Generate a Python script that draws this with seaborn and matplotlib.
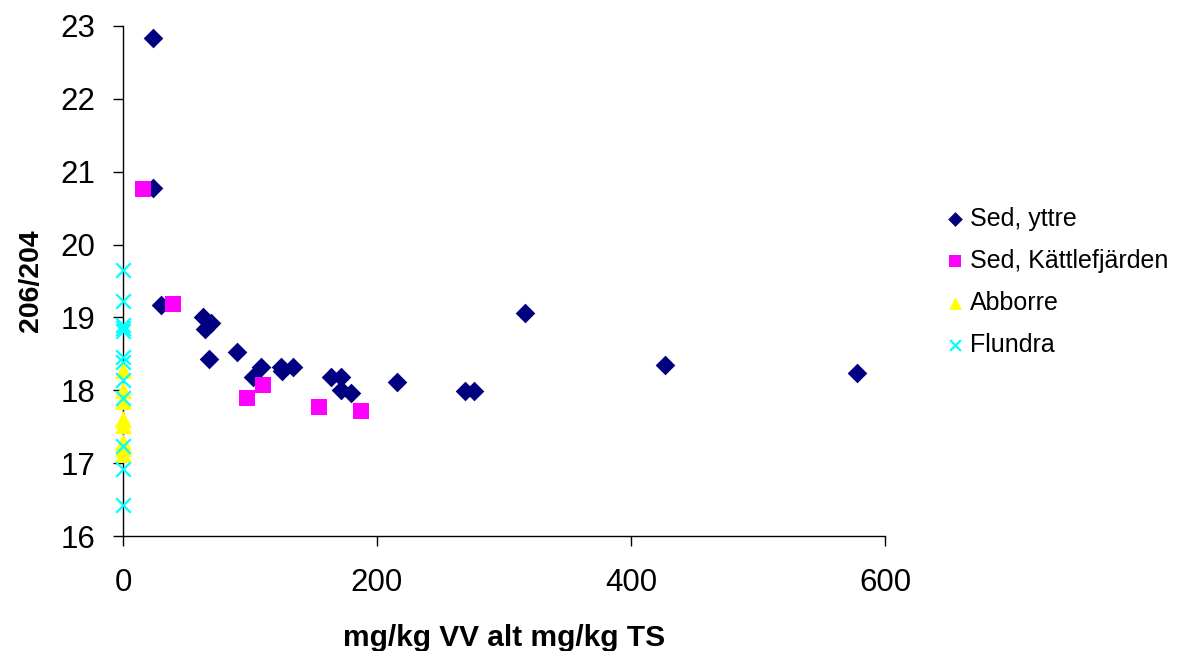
import matplotlib
matplotlib.use("Agg")
import matplotlib.pyplot as plt
import seaborn as sns

# ---- data ----
sed_yttre_x = [23.4, 23.9, 29.7, 63.2, 69.0, 64.8, 68.0, 89.5, 108.9, 102.1, 124.7, 125.5,
               134.1, 163.5, 171.9, 171.9, 179.8, 215.5, 269.3, 276.4, 316.5, 426.8, 578.0]
sed_yttre_y = [22.84, 20.78, 19.17, 19.01, 18.93, 18.84, 18.43, 18.52, 18.32, 18.18, 18.32, 18.26,
               18.32, 18.18, 18.18, 18.01, 17.96, 18.12, 17.99, 17.99, 19.06, 18.35, 18.24]

sed_kattle_x = [16.0, 39.6, 110.0, 97.9, 154.6, 187.7]
sed_kattle_y = [20.76, 19.19, 18.07, 17.90, 17.77, 17.71]

abborre_x = [0, 0, 0, 0, 0, 0, 0, 0]
abborre_y = [18.28, 18.00, 17.85, 17.61, 17.52, 17.29, 17.21, 17.12]

flundra_x = [0] * 12
flundra_y = [19.65, 19.22, 18.90, 18.85, 18.82, 18.46, 18.39, 18.14, 17.90, 17.23, 16.92, 16.43]

series_names = ["Sed, yttre", "Sed, Kättlefjärden", "Abborre", "Flundra"]
x_ticks = [0, 200, 400, 600]
y_ticks = [16, 17, 18, 19, 20, 21, 22, 23]

# ---- plot ----
sns.set_style("white")
plt.rcParams["font.family"] = ["Liberation Sans", "DejaVu Sans"]
plt.rcParams["text.color"] = "black"
plt.rcParams["axes.labelcolor"] = "black"

fig = plt.figure(figsize=(11.79, 6.51), dpi=100)
ax = fig.add_axes([123 / 1179, 1 - 536 / 651, (885 - 123) / 1179, (536 - 26) / 651])

sns.scatterplot(x=sed_yttre_x, y=sed_yttre_y, marker="D", color="#000080", s=100,
                linewidth=0, label=series_names[0], ax=ax, zorder=3)
sns.scatterplot(x=sed_kattle_x, y=sed_kattle_y, marker="s", color="#FF00FF", s=135,
                linewidth=0, label=series_names[1], ax=ax, zorder=3)
sns.scatterplot(x=abborre_x, y=abborre_y, marker="^", color="#FFFF00", s=150,
                linewidth=0, label=series_names[2], ax=ax, zorder=3)
sns.scatterplot(x=flundra_x, y=flundra_y, marker="x", color="#00FFFF", s=110,
                linewidth=1.6, label=series_names[3], ax=ax, zorder=4)
for coll in ax.collections:
    coll.set_clip_on(False)

ax.set_xlim(0, 600)
ax.set_ylim(16, 23)
ax.set_xticks(x_ticks)
ax.set_yticks(y_ticks)
ax.tick_params(axis="both", direction="out", length=7, width=1, color="black",
               labelsize=22.5, labelcolor="black", bottom=True, left=True)
ax.tick_params(axis="x", pad=16)
ax.tick_params(axis="y", pad=13)
for side in ["top", "right"]:
    ax.spines[side].set_visible(False)
for side in ["left", "bottom"]:
    ax.spines[side].set_color("black")
    ax.spines[side].set_linewidth(1)
    ax.spines[side].set_zorder(2)

ax.set_xlabel("mg/kg VV alt mg/kg TS", fontsize=21.5, fontweight="bold", labelpad=19,
              color="black")
ax.set_ylabel("206/204", fontsize=20.5, fontweight="bold", labelpad=12, color="black")

leg = ax.legend(loc="upper left", bbox_to_anchor=(930 / 1179, 1 - 197 / 651),
                bbox_transform=fig.transFigure, frameon=False, fontsize=18,
                handletextpad=0.0, labelspacing=0.72, borderaxespad=0, handlelength=1.2,
                markerscale=0.75)
for t in leg.get_texts():
    t.set_color("black")

fig.savefig("out.png", dpi=100)
